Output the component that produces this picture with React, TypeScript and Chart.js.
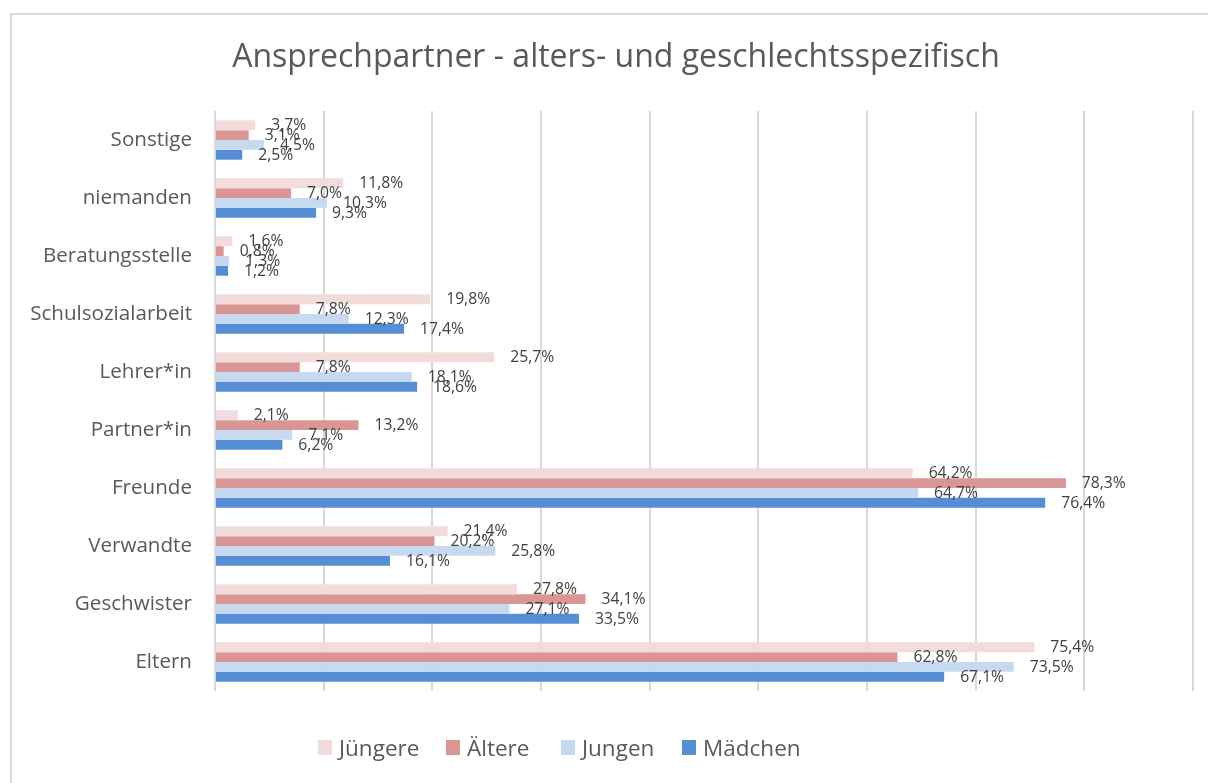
import React, { useEffect, useRef } from 'react';
import { Chart, registerables } from 'chart.js';

Chart.register(...registerables);

const chartTitle = 'Ansprechpartner - alters- und geschlechtsspezifisch';
const categories = [
  'Sonstige',
  'niemanden',
  'Beratungsstelle',
  'Schulsozialarbeit',
  'Lehrer*in',
  'Partner*in',
  'Freunde',
  'Verwandte',
  'Geschwister',
  'Eltern',
];
const seriesNames = ['Jüngere', 'Ältere', 'Jungen', 'Mädchen'];
const juengere = [3.7, 11.8, 1.6, 19.8, 25.7, 2.1, 64.2, 21.4, 27.8, 75.4];
const aeltere = [3.1, 7.0, 0.8, 7.8, 7.8, 13.2, 78.3, 20.2, 34.1, 62.8];
const jungen = [4.5, 10.3, 1.3, 12.3, 18.1, 7.1, 64.7, 25.8, 27.1, 73.5];
const maedchen = [2.5, 9.3, 1.2, 17.4, 18.6, 6.2, 76.4, 16.1, 33.5, 67.1];
const seriesValues = [juengere, aeltere, jungen, maedchen];
const seriesColors = ['#F2DCDB', '#DA9694', '#C6D9F1', '#558ED5'];
const axisMin = 0;
const axisMax = 90;
const axisStep = 10;

const FONT = '"Open Sans", sans-serif';
const TEXT = '#595959';
const LABEL_TEXT = '#404040';

function fitSize(text: string, width: number): number {
  const c = document.createElement('canvas').getContext('2d')!;
  c.font = `100px ${FONT}`;
  return (100 * width) / c.measureText(text).width;
}

function fmt(v: number): string {
  return v.toFixed(1).replace('.', ',') + '%';
}

export default function App() {
  const ref = useRef<HTMLCanvasElement | null>(null);

  useEffect(() => {
    const canvas = ref.current;
    if (!canvas) return;

    const titleSize = fitSize(chartTitle, 768);
    const catSize = fitSize('BeratungsstelleSchulsozialarbeit', 149 + 162);
    const legendSize = fitSize(seriesNames.join(''), 313);
    const valueSize = fitSize('78,3%11,8%', 88);

    const legendSquares = [318, 446, 561, 682];

    const decor = {
      id: 'decor',
      afterDatasetsDraw(chart: any) {
        const ctx = chart.ctx;
        ctx.save();
        ctx.font = `${valueSize}px ${FONT}`;
        ctx.fillStyle = LABEL_TEXT;
        ctx.textAlign = 'left';
        ctx.textBaseline = 'middle';
        chart.data.datasets.forEach((ds: any, di: number) => {
          const meta = chart.getDatasetMeta(di);
          meta.data.forEach((el: any, i: number) => {
            ctx.fillText(fmt(ds.data[i]), el.x + 16, el.y + 0.5);
          });
        });
        ctx.restore();
      },
      afterDraw(chart: any) {
        const ctx = chart.ctx;
        ctx.save();
        ctx.fillStyle = TEXT;
        ctx.font = `${titleSize}px ${FONT}`;
        ctx.textAlign = 'center';
        ctx.textBaseline = 'alphabetic';
        ctx.fillText(chartTitle, 616, 67);

        ctx.font = `${legendSize}px ${FONT}`;
        ctx.textAlign = 'left';
        seriesNames.forEach((name, i) => {
          const x = legendSquares[i];
          ctx.fillStyle = seriesColors[i];
          ctx.fillRect(x, 740, 14, 15);
          ctx.fillStyle = TEXT;
          ctx.fillText(name, x + 21, 756);
        });
        ctx.restore();
      },
    };

    const chart = new Chart(canvas, {
      type: 'bar',
      data: {
        labels: categories,
        datasets: seriesNames.map((name, i) => ({
          label: name,
          data: seriesValues[i],
          backgroundColor: seriesColors[i],
          borderWidth: 0,
          categoryPercentage: 0.68,
          barPercentage: 1,
        })),
      },
      options: {
        indexAxis: 'y',
        responsive: false,
        animation: false,
        devicePixelRatio: 1,
        layout: { padding: { top: 111, bottom: 92, right: 15, left: 0 } },
        plugins: {
          legend: { display: false },
          title: { display: false },
          tooltip: { enabled: false },
        },
        scales: {
          x: {
            min: axisMin,
            max: axisMax,
            ticks: { display: false, stepSize: axisStep },
            grid: { color: '#D9D9D9', lineWidth: 2, drawTicks: false },
            border: { display: false },
            afterFit(s: any) {
              s.height = 0;
            },
          },
          y: {
            ticks: {
              color: TEXT,
              font: { family: FONT, size: catSize },
              padding: 23,
              autoSkip: false,
            },
            grid: { display: false, drawTicks: false },
            border: { display: false },
            afterFit(s: any) {
              s.width = 215;
            },
          },
        },
      } as any,
      plugins: [decor],
    });

    return () => chart.destroy();
  }, []);

  return (
    <div
      style={{
        position: 'absolute',
        left: 0,
        top: 0,
        width: 1208,
        height: 783,
        overflow: 'hidden',
        background: '#ffffff',
      }}
    >
      <div
        style={{
          position: 'absolute',
          left: 10,
          top: 13,
          width: 1300,
          height: 900,
          border: '2px solid #D9D9D9',
          boxSizing: 'border-box',
        }}
      />
      <canvas
        ref={ref}
        width={1208}
        height={783}
        style={{ position: 'absolute', left: 0, top: 0, width: 1208, height: 783 }}
      />
    </div>
  );
}
